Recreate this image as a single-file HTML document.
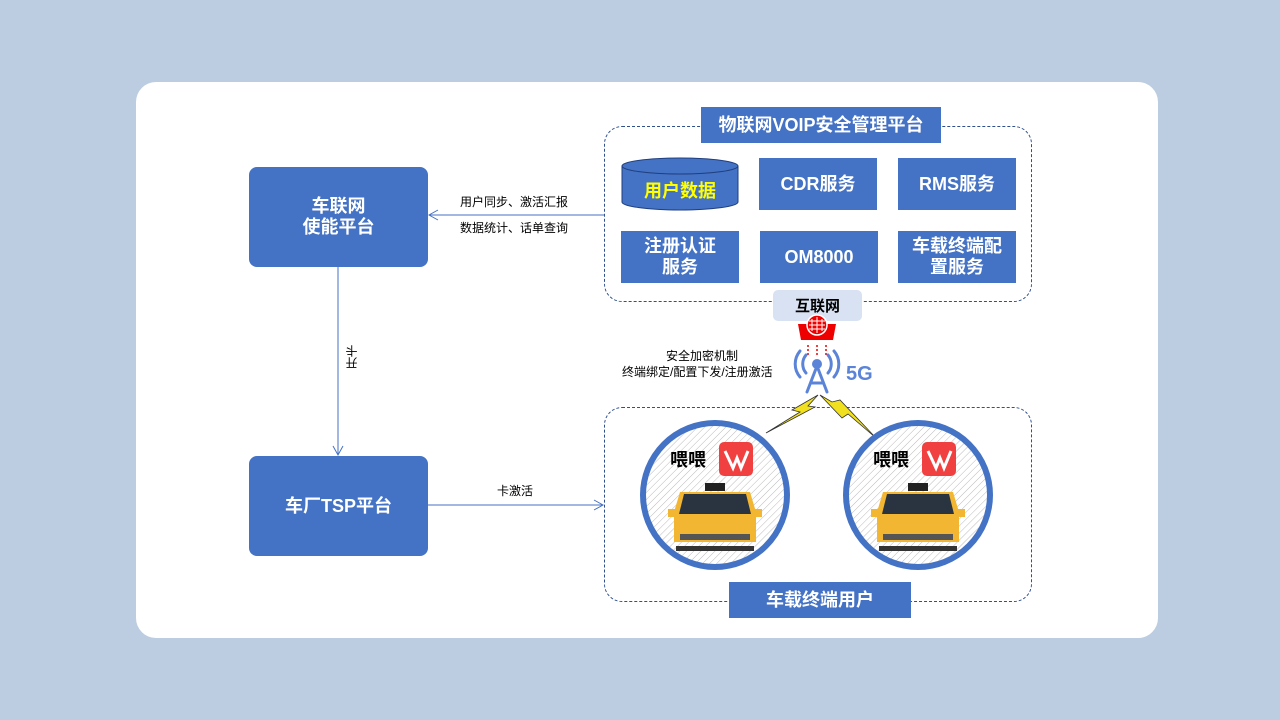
<!DOCTYPE html>
<html><head><meta charset="utf-8"><style>
body{margin:0;width:1280px;height:720px;background:#bccce1;font-family:"Liberation Sans","Noto Sans CJK SC",sans-serif;position:relative;overflow:hidden}
.a{position:absolute}
.card{left:136px;top:82px;width:1022px;height:556px;background:#fff;border-radius:20px}
.b{position:absolute;background:#4472c4;color:#fff;font-weight:bold;display:flex;align-items:center;justify-content:center;text-align:center;line-height:1.15}
.dash{position:absolute;border:1px dashed #2f4f8f;border-radius:18px}
.t{position:absolute;font-size:12px;color:#000;white-space:nowrap}
</style></head><body>
<div class="a card"></div>
<div class="dash" style="left:604px;top:126px;width:426px;height:174px"></div>
<div class="dash" style="left:604px;top:407px;width:426px;height:193px"></div>
<div class="b" style="left:249px;top:167px;width:179px;height:100px;border-radius:8px;font-size:18px">车联网<br>使能平台</div>
<div class="b" style="left:249px;top:456px;width:179px;height:100px;border-radius:8px;font-size:18px">车厂TSP平台</div>
<div class="b" style="left:701px;top:107px;width:240px;height:36px;font-size:18px">物联网VOIP安全管理平台</div>
<div class="b" style="left:759px;top:158px;width:118px;height:52px;font-size:18px">CDR服务</div>
<div class="b" style="left:898px;top:158px;width:118px;height:52px;font-size:18px">RMS服务</div>
<div class="b" style="left:621px;top:231px;width:118px;height:52px;font-size:18px">注册认证<br>服务</div>
<div class="b" style="left:760px;top:231px;width:118px;height:52px;font-size:18px">OM8000</div>
<div class="b" style="left:898px;top:231px;width:118px;height:52px;font-size:18px">车载终端配<br>置服务</div>
<div class="b" style="left:729px;top:582px;width:182px;height:36px;font-size:18px">车载终端用户</div>
<div class="a" style="left:773px;top:290px;width:89px;height:31px;background:#d9e2f2;border-radius:5px;font-size:15px;font-weight:bold;display:flex;align-items:center;justify-content:center">互联网</div>
<svg class="a" style="left:0;top:0" width="1280" height="720">
<defs><pattern id="h" width="5" height="5" patternUnits="userSpaceOnUse" patternTransform="rotate(45)"><rect width="5" height="5" fill="#fff"/><line x1="0" y1="0" x2="0" y2="5" stroke="#bbb" stroke-width="1"/></pattern></defs>
<!-- db -->
<rect x="622" y="166" width="116" height="36" fill="#4472c4"/>
<ellipse cx="680" cy="202" rx="58" ry="8" fill="#4472c4" stroke="#1f3f7f"/>
<rect x="622" y="166" width="116" height="36" fill="#4472c4"/>
<line x1="622" y1="166" x2="622" y2="202" stroke="#1f3f7f"/><line x1="738" y1="166" x2="738" y2="202" stroke="#1f3f7f"/>
<ellipse cx="680" cy="166" rx="58" ry="8" fill="#4472c4" stroke="#1f3f7f"/>
<text x="680" y="197" font-size="18" font-weight="bold" fill="#ffff00" text-anchor="middle" font-family="Liberation Sans,Noto Sans CJK SC,sans-serif">用户数据</text>
<!-- connectors -->
<g stroke="#4472c4" fill="none" stroke-width="1">
<line x1="604" y1="215" x2="429" y2="215"/><polyline points="438,210 429,215 438,220"/>
<line x1="338" y1="267" x2="338" y2="455"/><polyline points="333,446 338,455 343,446"/>
<line x1="428" y1="505" x2="603" y2="505"/><polyline points="594,500 603,505 594,510"/>
</g>
<!-- internet icon -->
<path d="M798 324 h38 l-3 16 h-32z" fill="#e00"/>
<circle cx="817" cy="325" r="10" fill="#e00" stroke="#fff" stroke-width="1.5"/>
<g stroke="#fff" stroke-width="1"><line x1="809" y1="325" x2="825" y2="325"/><line x1="817" y1="317" x2="817" y2="333"/><line x1="812" y1="319" x2="812" y2="331"/><line x1="822" y1="319" x2="822" y2="331"/><line x1="809" y1="321" x2="825" y2="321"/><line x1="809" y1="329" x2="825" y2="329"/></g>
<g stroke="#e00" stroke-width="1.5" stroke-dasharray="2,2"><line x1="808" y1="355" x2="808" y2="345"/><line x1="817" y1="355" x2="817" y2="345"/><line x1="826" y1="355" x2="826" y2="345"/></g>
<!-- tower -->
<g stroke="#5b84d8" stroke-width="3" fill="none" stroke-linecap="round">
<path d="M806 355 a14 14 0 0 0 0 18"/><path d="M800 351 a20 20 0 0 0 0 26"/>
<path d="M828 355 a14 14 0 0 1 0 18"/><path d="M834 351 a20 20 0 0 1 0 26"/>
<path d="M817 366 L807 392 M817 366 L827 392 M811 383 H823"/></g>
<circle cx="817" cy="364" r="5" fill="#5b84d8"/>
<text x="846" y="380" font-size="20" font-weight="bold" fill="#5b84d8" font-family="Liberation Sans,sans-serif">5G</text>
<!-- lightning -->
<path d="M766 433 L800 412 L792 410 L818 395 L808 406 L815 407 Z" fill="#f0e020" stroke="#333" stroke-width="0.8"/>
<path d="M876 438 L848 414 L842 418 L820 395 L832 402 L840 400 Z" fill="#f0e020" stroke="#333" stroke-width="0.8"/>
<!-- circles -->
<circle cx="715" cy="495" r="72" fill="url(#h)" stroke="#4472c4" stroke-width="6"/>
<circle cx="918" cy="495" r="72" fill="url(#h)" stroke="#4472c4" stroke-width="6"/>
<g id="c1">
<text x="688" y="466" font-size="18" font-weight="bold" text-anchor="middle" font-family="Liberation Sans,Noto Sans CJK SC,sans-serif">喂喂</text>
<rect x="719" y="442" width="34" height="34" rx="5" fill="#f04040"/>
<path d="M725 451 L733 468 L737 458 L741 468 L748 451" stroke="#fff" stroke-width="3" fill="none"/>
<rect x="705" y="483" width="20" height="8" fill="#222"/>
<path d="M680 492 h70 l6 20 v30 h-82 v-30z" fill="#f2b632"/>
<path d="M684 494 h62 l5 20 h-72z" fill="#2a3440"/>
<rect x="668" y="509" width="10" height="8" fill="#f2b632"/><rect x="752" y="509" width="10" height="8" fill="#f2b632"/>
<rect x="680" y="534" width="70" height="6" fill="#555"/>
<rect x="676" y="546" width="78" height="5" fill="#333"/>
</g>
<use href="#c1" x="203"/>
</svg>
<div class="t" style="left:460px;top:193px">用户同步、激活汇报</div>
<div class="t" style="left:460px;top:219px">数据统计、话单查询</div>
<div class="t" style="left:343px;top:345px;writing-mode:vertical-rl;transform:rotate(180deg)">开卡</div>
<div class="t" style="left:497px;top:482px">卡激活</div>
<div class="t" style="left:666px;top:347px">安全加密机制</div>
<div class="t" style="left:622px;top:363px">终端绑定/配置下发/注册激活</div>
</body></html>
